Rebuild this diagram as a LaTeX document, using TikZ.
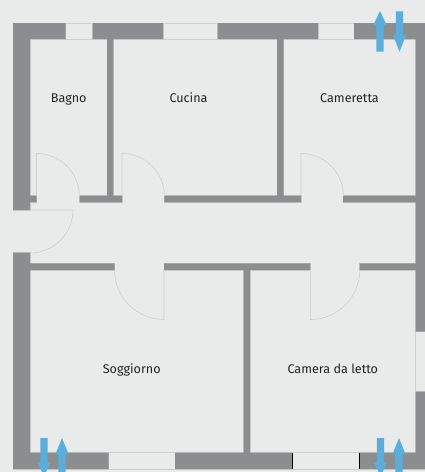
\documentclass[tikz,border=0pt]{standalone}
\usepackage{fontspec}
\setmainfont{Fira Sans}
\definecolor{bgc}{HTML}{E9EBEA}
\definecolor{wallc}{HTML}{8A8E8E}
\definecolor{edgec}{HTML}{CDCFCE}
\definecolor{arrowc}{HTML}{5BADDC}
\definecolor{textc}{HTML}{222222}
\newcommand{\wallshapes}{
  (13,23) rectangle (30,210)
  (13,252.7) rectangle (30,469)
  (13,23) rectangle (65.5,39)
  (92.5,23) rectangle (163,39)
  (217.7,23) rectangle (318,39)
  (354,23) rectangle (425,39)
  (415.7,23) rectangle (425,331.7)
  (415.7,391.7) rectangle (425,469)
  (13,452.7) rectangle (108.5,469)
  (175,452.7) rectangle (292.3,469)
  (359.3,452.7) rectangle (425,469)
  (107,39) rectangle (113.3,196)
  (277,39) rectangle (283.7,196)
  (243.7,270) rectangle (250,452.7)
  (30,195.7) rectangle (36.7,202.3)
  (79.5,195.7) rectangle (122,202.3)
  (164.3,195.7) rectangle (301,202.3)
  (343,195.7) rectangle (415.7,202.3)
  (30,263.3) rectangle (114.5,270)
  (164,263.3) rectangle (310.3,270)
  (359.7,263.3) rectangle (415.7,270)
}
% centre x, tip y, head base y, tail y (works for both directions)
\newcommand{\ventarrow}[4]{%
  \fill[arrowc] (#1-3.7,#4) -- (#1-3.7,#3) -- (#1-6.6,#3) -- (#1,#2) -- (#1+6.6,#3) -- (#1+3.7,#3) -- (#1+3.7,#4) -- cycle;}
\tikzset{
  room/.style={text=textc,font=\fontsize{12.6}{14}\selectfont,inner sep=0pt,anchor=base},
  edgeline/.style={draw=edgec,line width=0.6pt},
  doorline/.style={draw=edgec,line width=0.6pt}
}
\begin{document}
\begin{tikzpicture}[x=1pt,y=-1pt]
\useasboundingbox (0,0) rectangle (425,472);
\clip (0,0) rectangle (425,472);
\fill[bgc] (0,0) rectangle (425,472);
% wall edges, then wall bodies
\path[edgeline] \wallshapes;
\fill[wallc] \wallshapes;
% windows
\draw[edgeline] (65.5,23) -- (92.5,23) (65.5,39) -- (92.5,39);
\draw[edgeline] (163,23) -- (217.7,23) (163,39) -- (217.7,39);
\draw[edgeline] (318,23) -- (354,23) (318,39) -- (354,39);
\draw[edgeline] (108.5,452.7) -- (175,452.7) (108.5,469) -- (175,469);
\draw[edgeline] (292.3,452.7) -- (359.3,452.7) (292.3,469) -- (359.3,469);
\draw[edgeline] (415.7,331.7) -- (415.7,391.7);
\draw[black,line width=0.6pt] (292.3,452.7) -- (292.3,469) (359.3,452.7) -- (359.3,469);
% doors
\draw[doorline] (36.5,196) -- (36.5,153.5) arc[start angle=-90,end angle=0,radius=43];
\draw[doorline] (122,196) -- (122,153.5) arc[start angle=-90,end angle=0,radius=42.5];
\draw[doorline] (301,196) -- (301,153.5) arc[start angle=-90,end angle=0,radius=42.5];
\draw[doorline] (30,210) -- (73,210) arc[start angle=0,end angle=90,radius=43];
\draw[doorline] (164,270) -- (164,319.5) arc[start angle=90,end angle=180,radius=49.5];
\draw[doorline] (310.3,270) -- (310.3,319.5) arc[start angle=90,end angle=0,radius=49.5];
% ventilation arrows
\ventarrow{380}{11}{25}{51.7}
\ventarrow{399.5}{51.7}{35}{11.3}
\ventarrow{62}{438}{454.3}{480}
\ventarrow{399}{438}{454.3}{480}
\ventarrow{44}{476}{462.7}{438}
\ventarrow{380.5}{476}{462.7}{438}
% labels
\node[room] (bagno) at (68.7,102) {Bagno};
\node[room] (cucina) at (188.5,102) {Cucina};
\node[room] (cameretta) at (349.5,102) {Cameretta};
\node[room] (soggiorno) at (131.7,373) {Soggiorno};
\node[room] (camera) at (332.8,373) {Camera da letto};
\end{tikzpicture}
\end{document}
